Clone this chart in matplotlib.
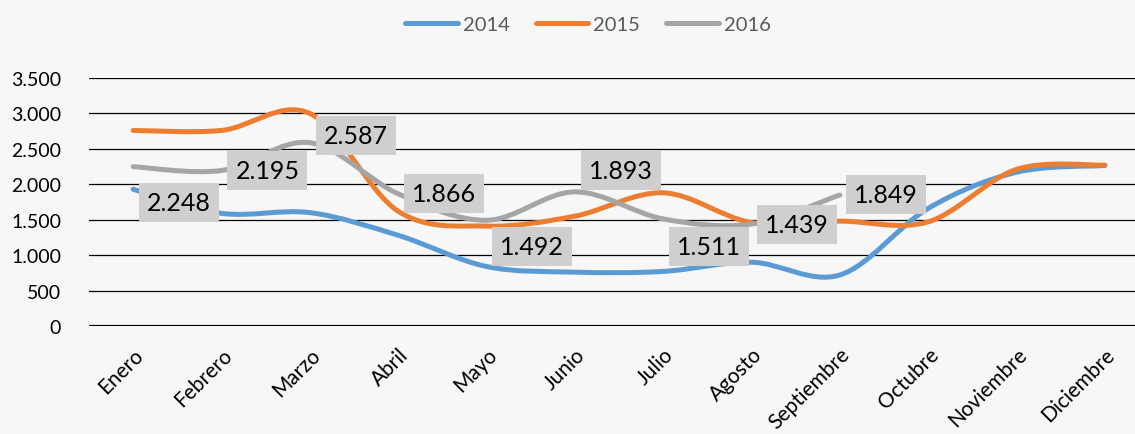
import numpy as np
import matplotlib.pyplot as plt
from matplotlib.path import Path
from matplotlib.patches import PathPatch
from matplotlib.lines import Line2D

meses = ["Enero", "Febrero", "Marzo", "Abril", "Mayo", "Junio", "Julio",
         "Agosto", "Septiembre", "Octubre", "Noviembre", "Diciembre"]
v2014 = [1930, 1590, 1600, 1280, 840, 760, 770, 900, 720, 1660, 2170, 2265]
v2015 = [2760, 2760, 3000, 1620, 1410, 1550, 1880, 1460, 1480, 1470, 2210, 2270]
v2016 = [2248, 2195, 2587, 1866, 1492, 1893, 1511, 1439, 1849]

colores = {"2014": "#5B9BD5", "2015": "#ED7D31", "2016": "#A5A5A5"}
# desplazamiento vertical de las etiquetas (px, positivo = abajo)
desp = [36, 0, -7, 0, 26, -21, 28, 0, 0]


def curva_suave(xs, ys):
    # curva tipo Excel: bezier con tangentes de Catmull-Rom
    pts = np.column_stack([xs, ys]).astype(float)
    n = len(pts)
    verts = [pts[0]]
    codes = [Path.MOVETO]
    for i in range(n - 1):
        p0 = pts[i - 1] if i > 0 else pts[i]
        p1, p2 = pts[i], pts[i + 1]
        p3 = pts[i + 2] if i + 2 < n else pts[i + 1]
        verts += [p1 + (p2 - p0) / 6, p2 - (p3 - p1) / 6, p2]
        codes += [Path.CURVE4] * 3
    return Path(verts, codes)


fig = plt.figure(figsize=(11.35, 4.35), dpi=100)
fig.patch.set_facecolor("#f7f7f7")
ax = fig.add_axes([89 / 1135, 1 - 327 / 435, 1060 / 1135, 248 / 435])
ax.set_facecolor("none")

x = np.arange(len(meses))
for nombre, vals in [("2014", v2014), ("2015", v2015), ("2016", v2016)]:
    p = curva_suave(x[:len(vals)], vals)
    ax.add_patch(PathPatch(p, facecolor="none", edgecolor=colores[nombre],
                           lw=3.6, capstyle="round", joinstyle="round", zorder=3))

for i, v in enumerate(v2016):
    ax.annotate(f"{v / 1000:.3f}", (x[i], v), xytext=(10, -desp[i] * 0.72),
                textcoords="offset points", ha="left", va="center",
                fontsize=18, family="Lato", color="black", zorder=5,
                bbox=dict(boxstyle="square,pad=0.32", fc="#D0CECE", ec="none"))

ax.set_xlim(-0.5, 11.5)
ax.set_ylim(0, 3500)
ax.set_yticks(range(0, 3501, 500))
ax.set_yticklabels([f"{t:,}".replace(",", ".") for t in range(0, 3501, 500)],
                   fontsize=14, family="Lato")
ax.set_xticks(x)
ax.set_xticklabels(meses, rotation=45, ha="right", rotation_mode="anchor",
                   fontsize=15, family="Lato")
ax.tick_params(axis="both", length=0)
ax.tick_params(axis="y", pad=20)
ax.tick_params(axis="x", pad=13)
ax.grid(axis="y", color="black", lw=0.9)
ax.axhline(0, color="black", lw=1.6)
for s in ax.spines.values():
    s.set_visible(False)

handles = [Line2D([], [], color=colores[k], lw=3.6, solid_capstyle="round")
           for k in colores]
fig.legend(handles, list(colores), loc="center", bbox_to_anchor=(0.518, 1 - 25 / 435),
           ncol=3, frameon=False, handlelength=2.6, handletextpad=0.25,
           columnspacing=1.3, prop={"family": "Lato", "size": 14.5},
           labelcolor="#595959")

fig.savefig("out.png", dpi=100, facecolor=fig.get_facecolor())
